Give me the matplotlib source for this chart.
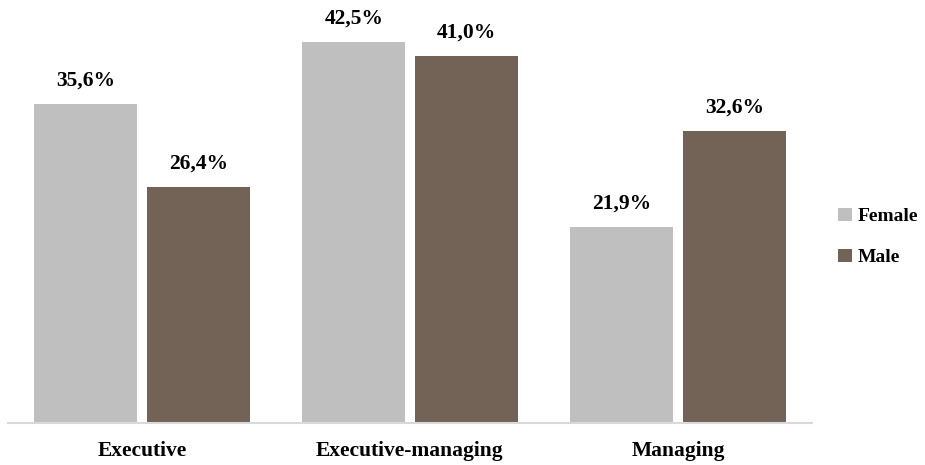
import numpy as np
import matplotlib
matplotlib.use('Agg')
from matplotlib import pyplot as plt

# Share of respondents by position type and gender
categories = ['Executive', 'Executive-managing', 'Managing']
female = [35.6, 42.5, 21.9]
male = [26.4, 41.0, 32.6]

plt.rcParams['font.family'] = ['Liberation Serif', 'DejaVu Serif']
plt.rcParams['font.weight'] = 'bold'

fig = plt.figure(figsize=(9.25, 4.65), dpi=100)
ax = fig.add_axes([8 / 925, 42 / 465, (812 - 8) / 925, 412 / 465])

x = np.arange(len(categories))
w = 0.384
off = 0.21
b1 = ax.bar(x - off, female, w, color='#BFBFBF', label='Female')
b2 = ax.bar(x + off, male, w, color='#736256', label='Male')

# Value labels with comma as the decimal separator
for bars, vals in ((b1, female), (b2, male)):
    for rect, v in zip(bars, vals):
        ax.text(rect.get_x() + rect.get_width() / 2, v + 1.5,
                f'{v:.1f}%'.replace('.', ','), ha='center', va='bottom',
                fontsize=15.5, fontweight='bold')

ax.set_xlim(-0.5, 2.5)
ax.set_ylim(0, 46)
ax.set_xticks(x)
ax.set_xticklabels(categories, fontsize=15.5, fontweight='bold')
ax.tick_params(axis='x', length=0, pad=13)
ax.set_yticks([])
for s in ('top', 'right', 'left'):
    ax.spines[s].set_visible(False)
ax.spines['bottom'].set_color('#D9D9D9')
ax.spines['bottom'].set_linewidth(1.5)

fig.legend(handles=[b1, b2], loc='center left',
           bbox_to_anchor=(838 / 925, 0.49), frameon=False,
           borderpad=0, borderaxespad=0,
           handlelength=0.7, handleheight=0.7, handletextpad=0.3,
           labelspacing=1.2, prop={'weight': 'bold', 'size': 14})

fig.savefig('out.png', dpi=100)
